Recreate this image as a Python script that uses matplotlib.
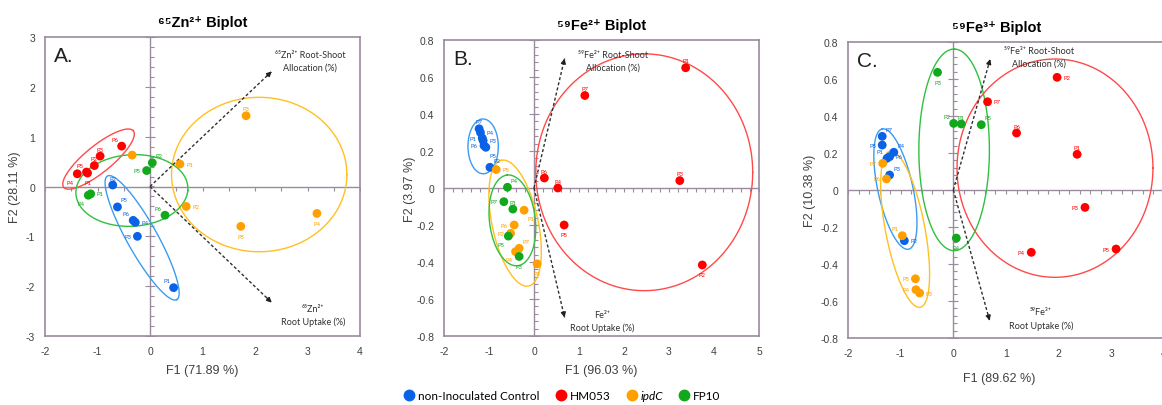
import numpy as np
import matplotlib
matplotlib.use('Agg')
import matplotlib.pyplot as plt
from matplotlib.lines import Line2D
from matplotlib.ticker import FuncFormatter

plt.rcParams['font.family'] = ['Liberation Sans', 'DejaVu Sans']
plt.rcParams['axes.unicode_minus'] = False

# colours: control, HM053, ipdC, FP10
pt_col = ['#0a62e6', '#ff0000', '#ffa000', '#12a81c']
ell_col = ['#3a9cf0', '#ff4a4a', '#ffc020', '#30c040']
frame_col = '#9a8b9e'

group_names = ['non-Inoculated Control', 'HM053', 'ipdC', 'FP10']

# ---- panel A: 65Zn2+ ----
zn_ctrl_x = [-0.71, -0.62, -0.32, -0.28, -0.24, 0.45]
zn_ctrl_y = [0.03, -0.41, -0.68, -0.72, -1.00, -2.03]
zn_ctrl_lab = ['P2', 'P5', 'P6', 'P4', 'P3', 'P1']
zn_hm_x = [-1.385, -1.21, -1.19, -1.06, -0.95, -0.54]
zn_hm_y = [0.255, 0.29, 0.27, 0.42, 0.61, 0.81]
zn_hm_lab = ['P4', 'P5', 'P1', 'P2', 'P3', 'P6']
zn_ipdc_x = [-0.34, 0.57, 1.83, 0.69, 1.73, 3.18]
zn_ipdc_y = [0.63, 0.45, 1.42, -0.40, -0.80, -0.54]
zn_ipdc_lab = ['', 'P1', 'P3', 'P2', 'P5', 'P4']
zn_fp_x = [-1.175, -1.13, 0.044, -0.064, 0.286]
zn_fp_y = [-0.175, -0.147, 0.476, 0.32, -0.576]
zn_fp_lab = ['P4', 'P1', 'P2', 'P5', 'P6']
zn_load_x = [2.32, 2.32]   # root-shoot allocation, root uptake
zn_load_y = [2.31, -2.33]

# ---- panel B: 59Fe2+ ----
fe2_ctrl_x = [-1.22, -1.19, -1.15, -1.13, -1.11, -1.07, -0.98]
fe2_ctrl_y = [0.32, 0.30, 0.27, 0.256, 0.229, 0.22, 0.112]
fe2_ctrl_lab = ['P7', 'P4', 'P1', 'P3', 'P6', 'P5', 'P2']
fe2_hm_x = [3.37, 1.13, 0.23, 0.53, 3.24, 0.67, 3.74]
fe2_hm_y = [0.65, 0.50, 0.054, 0.0, 0.04, -0.20, -0.416]
fe2_hm_lab = ['P1', 'P7', 'P6', 'P4', 'P3', 'P5', 'P2']
fe2_ipdc_x = [-0.84, -0.22, -0.44, -0.52, -0.33, -0.41, 0.07]
fe2_ipdc_y = [0.10, -0.12, -0.20, -0.245, -0.326, -0.344, -0.41]
fe2_ipdc_lab = ['P5', 'P1', 'P6', 'P2', 'P7', 'P4', 'P3']
fe2_fp_x = [-0.59, -0.67, -0.47, -0.57, -0.33]
fe2_fp_y = [0.004, -0.074, -0.114, -0.26, -0.37]
fe2_fp_lab = ['P4', 'P7', 'P1', 'P5', 'P3']
fe2_load_x = [0.68, 0.68]
fe2_load_y = [0.70, -0.70]

# ---- panel C: 59Fe3+ ----
fe3_ctrl_x = [-1.35, -1.35, -1.26, -1.21, -1.13, -1.21, -0.93]
fe3_ctrl_y = [0.29, 0.243, 0.171, 0.18, 0.204, 0.081, -0.274]
fe3_ctrl_lab = ['P7', 'P5', 'P1', 'P6', 'P4', 'P3', 'P2']
fe3_hm_x = [0.65, 1.97, 1.20, 2.35, 2.50, 1.48, 3.09]
fe3_hm_y = [0.477, 0.609, 0.308, 0.193, -0.094, -0.337, -0.319]
fe3_hm_lab = ['P7', 'P2', 'P6', 'P1', 'P3', 'P4', 'P5']
fe3_ipdc_x = [-1.34, -1.27, -0.97, -0.72, -0.71, -0.64]
fe3_ipdc_y = [0.144, 0.06, -0.247, -0.48, -0.539, -0.557]
fe3_ipdc_lab = ['P7', 'P6', 'P1', 'P5', 'P4', 'P3']
fe3_fp_x = [-0.30, 0.006, 0.15, 0.53, 0.057]
fe3_fp_y = [0.636, 0.36, 0.357, 0.353, -0.26]
fe3_fp_lab = ['P3', 'P2', 'P1', 'P5', 'P4']
fe3_load_x = [0.70, 0.69]
fe3_load_y = [0.708, -0.706]

# where the small point labels sit
OFF = {'a': (0, 5), 'b': (0, -7), 'l': (-7, 0), 'r': (7, 0),
       'ar': (5, 5), 'al': (-5, 5), 'br': (5, -6), 'bl': (-5, -6)}

zn_pos = [['a', 'ar', 'al', 'r', 'l', 'al'],
          ['bl', 'al', 'b', 'a', 'a', 'al'],
          ['a', 'r', 'a', 'r', 'b', 'b'],
          ['bl', 'r', 'ar', 'l', 'al']]
fe2_pos = [['a', 'r', 'l', 'r', 'l', 'br', 'ar'],
           ['a', 'a', 'a', 'a', 'a', 'b', 'b'],
           ['r', 'br', 'l', 'l', 'ar', 'bl', 'b'],
           ['ar', 'l', 'a', 'bl', 'b']]
fe3_pos = [['ar', 'l', 'al', 'r', 'ar', 'ar', 'r'],
           ['r', 'r', 'a', 'a', 'l', 'l', 'l'],
           ['l', 'l', 'al', 'l', 'l', 'r'],
           ['b', 'al', 'a', 'ar', 'b']]

# confidence ellipses: centre, semi-axis vector 1, semi-axis vector 2 (data units)
zn_ell = [((-0.15, -1.03), (0.66, -1.24), (0.25, 0.15)),
          ((-0.98, 0.55), (0.66, 0.57), (0.17, -0.20)),
          ((2.08, 0.24), (1.67, 0.0), (0.0, 1.55)),
          ((-0.345, -0.08), (1.065, 0.0), (0.06, 0.72))]
fe2_ell = [((-1.13, 0.225), (-0.07, 0.145), (0.33, 0.03)),
           ((2.45, 0.085), (2.41, 0.0), (0.0, 0.64)),
           ((-0.42, -0.19), (-0.30, 0.34), (0.50, 0.026)),
           ((-0.48, -0.175), (-0.12, 0.245), (0.506, 0.015))]
fe3_ell = [((-1.10, 0.005), (-0.25, 0.325), (0.325, 0.02)),
           ((1.93, 0.118), (1.86, 0.0), (0.0, 0.59)),
           ((-0.915, -0.212), (-0.285, 0.422), (0.367, 0.02)),
           ((0.015, 0.217), (0.0, 0.545), (0.67, 0.0))]


def fmt(v, _):
    v = round(v, 2) + 0.0
    if v == 0:
        return '0'
    return f'{v:g}'


def draw_ellipse(ax, c, p, q, color):
    t = np.linspace(0, 2 * np.pi, 300)
    ex = c[0] + p[0] * np.cos(t) + q[0] * np.sin(t)
    ey = c[1] + p[1] * np.cos(t) + q[1] * np.sin(t)
    ax.plot(ex, ey, color=color, lw=1.0, zorder=2)


def draw_panel(ax, groups, pos, ells, load_x, load_y, xlim, ylim, xminor, yminor, ystep):
    ax.set_xlim(*xlim)
    ax.set_ylim(*ylim)
    for s in ax.spines.values():
        s.set_color(frame_col)
        s.set_linewidth(1.2)
    ax.tick_params(length=0, labelsize=7.5, colors='#404040', pad=7)
    ax.set_xticks(np.arange(xlim[0], xlim[1] + 0.01, 1))
    ax.set_yticks(np.arange(ylim[0], ylim[1] + 1e-6, ystep))
    ax.xaxis.set_major_formatter(FuncFormatter(fmt))
    ax.yaxis.set_major_formatter(FuncFormatter(fmt))

    # centre cross with its own tick marks
    ax.axhline(0, color=frame_col, lw=1.0, zorder=1)
    ax.axvline(0, color=frame_col, lw=1.0, zorder=1)
    hx = np.arange(xlim[0], xlim[1] + 1e-6, xminor)
    ax.plot(hx, np.zeros_like(hx), ls='', marker=3, ms=3, mec=frame_col, mew=0.8, zorder=1)
    hy = np.arange(ylim[0], ylim[1] + 1e-6, yminor)
    ax.plot(np.zeros_like(hy), hy, ls='', marker=1, ms=3, mec=frame_col, mew=0.8, zorder=1)
    my = np.arange(ylim[0], ylim[1] + 1e-6, ystep)
    ax.plot(np.zeros_like(my), my, ls='', marker='_', ms=7, mec=frame_col, mew=0.8, zorder=1)

    for g, (gx, gy, glab) in enumerate(groups):
        draw_ellipse(ax, *ells[g], ell_col[g])
        ax.scatter(gx, gy, s=40, color=pt_col[g], edgecolors='none', zorder=4)
        for x, y, lab, code in zip(gx, gy, glab, pos[g]):
            if lab:
                ax.annotate(lab, (x, y), xytext=OFF[code], textcoords='offset points',
                            ha='center', va='center', fontsize=4.3, color=pt_col[g],
                            family=['Lato', 'DejaVu Sans'], zorder=5)

    # loading vectors
    for lx, ly in zip(load_x, load_y):
        ax.plot([0, lx], [0, ly], ls=(0, (2.2, 1.6)), color='#303030', lw=1.0, zorder=3)
        ax.annotate('', xy=(lx, ly), xytext=(lx * 0.96, ly * 0.96),
                    arrowprops=dict(arrowstyle='-|>', color='#202020', lw=1.0,
                                    mutation_scale=7, shrinkA=0, shrinkB=0), zorder=3)


fig = plt.figure(figsize=(11.62, 4.06), dpi=100)
W, H = 1162, 406

def add_ax(l, r, t, b):
    return fig.add_axes([l / W, (H - b) / H, (r - l) / W, (b - t) / H])

axA = add_ax(45, 360, 38, 337)
axB = add_ax(444, 759, 41, 337)
axC = add_ax(848, 1164, 43, 339)

draw_panel(axA, [(zn_ctrl_x, zn_ctrl_y, zn_ctrl_lab), (zn_hm_x, zn_hm_y, zn_hm_lab),
                 (zn_ipdc_x, zn_ipdc_y, zn_ipdc_lab), (zn_fp_x, zn_fp_y, zn_fp_lab)],
           zn_pos, zn_ell, zn_load_x, zn_load_y, (-2, 4), (-3, 3), 0.5, 0.2, 1)
draw_panel(axB, [(fe2_ctrl_x, fe2_ctrl_y, fe2_ctrl_lab), (fe2_hm_x, fe2_hm_y, fe2_hm_lab),
                 (fe2_ipdc_x, fe2_ipdc_y, fe2_ipdc_lab), (fe2_fp_x, fe2_fp_y, fe2_fp_lab)],
           fe2_pos, fe2_ell, fe2_load_x, fe2_load_y, (-2, 5), (-0.8, 0.8), 0.2, 0.04, 0.2)
draw_panel(axC, [(fe3_ctrl_x, fe3_ctrl_y, fe3_ctrl_lab), (fe3_hm_x, fe3_hm_y, fe3_hm_lab),
                 (fe3_ipdc_x, fe3_ipdc_y, fe3_ipdc_lab), (fe3_fp_x, fe3_fp_y, fe3_fp_lab)],
           fe3_pos, fe3_ell, fe3_load_x, fe3_load_y, (-2, 4), (-0.8, 0.8), 0.2, 0.04, 0.2)

ann_font = ['Lato', 'DejaVu Sans']
tfont = ['Liberation Sans', 'DejaVu Sans']

for ax, title, letter, xl, yl in [
        (axA, '⁶⁵Zn²⁺ Biplot', 'A.', 'F1 (71.89 %)', 'F2 (28.11 %)'),
        (axB, '⁵⁹Fe²⁺ Biplot', 'B.', 'F1 (96.03 %)', 'F2 (3.97 %)'),
        (axC, '⁵⁹Fe³⁺ Biplot', 'C.', 'F1 (89.62 %)', 'F2 (10.38 %)')]:
    ax.set_title(title, fontsize=10.5, fontweight='bold', pad=8, family=tfont)
    ax.text(0.03, 0.97, letter, transform=ax.transAxes, fontsize=15, va='top', ha='left',
            family=tfont, color='#202020')
    ax.set_xlabel(xl, fontsize=9, color='#404040', family=tfont)
    ax.set_ylabel(yl, fontsize=9, color='#404040', family=tfont)

axA.xaxis.set_label_coords(0.5, -0.095)
axB.xaxis.set_label_coords(0.5, -0.095)
axC.xaxis.set_label_coords(0.48, -0.115)
axA.yaxis.set_label_coords(-0.075, 0.5)
axB.yaxis.set_label_coords(-0.09, 0.5)
axC.yaxis.set_label_coords(-0.1, 0.5)
axC.title.set_position((0.47, 1.0))

# loading vector captions
axA.text(3.05, 2.52, '⁶⁵Zn²⁺ Root-Shoot\nAllocation (%)', ha='center', va='center',
         fontsize=6.5, color='#303030', family=ann_font, linespacing=1.5)
axA.text(3.1, -2.58, '⁶⁵Zn²⁺\nRoot Uptake (%)', ha='center', va='center',
         fontsize=6.5, color='#303030', family=ann_font, linespacing=1.5)
axB.text(1.76, 0.687, '⁵⁹Fe²⁺ Root-Shoot\nAllocation (%)', ha='center', va='center',
         fontsize=6.5, color='#303030', family=ann_font, linespacing=1.5)
axB.text(1.52, -0.718, 'Fe²⁺\nRoot Uptake (%)', ha='center', va='center',
         fontsize=6.5, color='#303030', family=ann_font, linespacing=1.5)
axC.text(1.63, 0.72, '⁵⁹Fe³⁺ Root-Shoot\nAllocation (%)', ha='center', va='center',
         fontsize=6.5, color='#303030', family=ann_font, linespacing=1.5)
axC.text(1.66, -0.694, '⁵⁹Fe³⁺\nRoot Uptake (%)', ha='center', va='center',
         fontsize=6.5, color='#303030', family=ann_font, linespacing=1.5)

handles = [Line2D([], [], ls='', marker='o', ms=7.5, color=c) for c in pt_col]
leg = fig.legend(handles, group_names, loc='center', bbox_to_anchor=(562 / W, 9 / H),
                 ncol=4, frameon=False, handletextpad=0.25, columnspacing=1.3,
                 handlelength=1.0, prop={'family': ann_font, 'size': 8.5})
leg.get_texts()[2].set_fontstyle('italic')

fig.savefig('out.png', dpi=100)
